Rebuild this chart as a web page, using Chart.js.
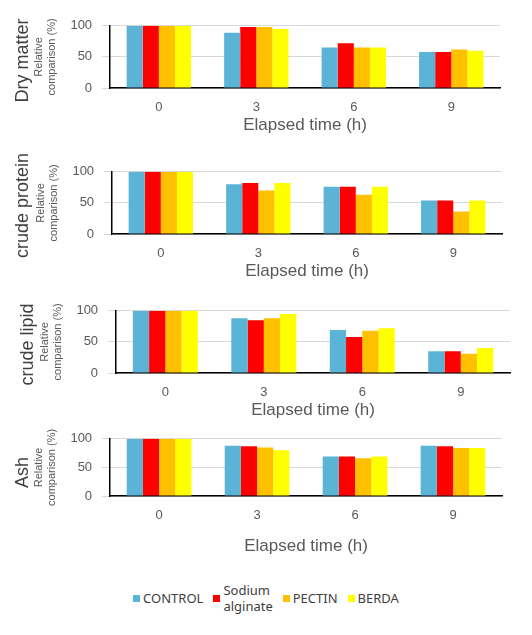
<!DOCTYPE html>
<html>
<head>
<meta charset="utf-8">
<script src="https://cdn.jsdelivr.net/npm/chart.js@4"></script>
<style>
  body { margin: 0; background: #fff; font-family: "Liberation Sans", Arial, sans-serif; }
  .panel { position: absolute; left: 0; width: 520px; }
  .big { position: absolute; font-size: 18px; color: #404040; transform: rotate(-90deg); transform-origin: center; white-space: nowrap; text-align: center; width: 140px; }
  #legend { position: absolute; top: 582px; left: 0; width: 532px; display: flex; justify-content: center; align-items: center; gap: 10px; font-family: "Noto Sans", sans-serif; font-size: 13px; color: #404040; }
  #legend span.sw { display: inline-block; width: 7px; height: 7px; margin-right: 3px; }
  #legend div { display: flex; align-items: center; line-height: 16px; }
</style>
</head>
<body>
<div class="panel" style="top:8px;height:128px"><canvas id="c0"></canvas></div>
<div class="panel" style="top:154px;height:128px"><canvas id="c1"></canvas></div>
<div class="panel" style="top:293px;height:128px"><canvas id="c2"></canvas></div>
<div class="panel" style="top:421px;height:150px"><canvas id="c3"></canvas></div>
<div class="big" style="left:-48px;top:50px">Dry matter</div>
<div class="big" style="left:-48px;top:195px">crude protein</div>
<div class="big" style="left:-43px;top:334px">crude lipid</div>
<div class="big" style="left:-48px;top:462px">Ash</div>
<div id="legend"></div>
<script>
const times = ["0", "3", "6", "9"];
const seriesNames = ["CONTROL", "Sodium alginate", "PECTIN", "BERDA"];
const seriesColors = ["#5bb4d6", "#ff0000", "#ffc000", "#ffff00"];

const dryMatter = [
  [100, 89, 65, 58],
  [100, 98, 72, 58],
  [100, 98, 65, 62],
  [100, 95, 65, 60],
];
const crudeProtein = [
  [100, 80, 76, 54],
  [100, 82, 76, 54],
  [100, 70, 63, 36],
  [100, 82, 76, 54],
];
const crudeLipid = [
  [100, 88, 69, 35],
  [100, 85, 58, 35],
  [100, 88, 68, 31],
  [100, 95, 72, 40],
];
const ash = [
  [100, 88, 69, 88],
  [100, 87, 69, 87],
  [100, 85, 66, 84],
  [100, 80, 69, 84],
];
const yTicks = [0, 50, 100];

const panels = [
  { id: "c0", data: dryMatter, pad: { left: 30, right: 20, top: 14, bottom: 0 }, xTitlePad: -4 },
  { id: "c1", data: crudeProtein, pad: { left: 32, right: 18, top: 14, bottom: 0 }, xTitlePad: -4 },
  { id: "c2", data: crudeLipid, pad: { left: 36, right: 10, top: 14, bottom: 0 }, xTitlePad: -4 },
  { id: "c3", data: ash, pad: { left: 30, right: 18, top: 14, bottom: 14 }, xTitlePad: 10 },
];

panels.forEach((p) => {
  new Chart(document.getElementById(p.id), {
    type: "bar",
    data: {
      labels: times,
      datasets: p.data.map((vals, i) => ({
        label: seriesNames[i],
        data: vals,
        backgroundColor: seriesColors[i],
        categoryPercentage: 0.66,
        barPercentage: 1,
      })),
    },
    options: {
      responsive: true,
      maintainAspectRatio: false,
      animation: false,
      layout: { padding: p.pad },
      plugins: { legend: { display: false }, tooltip: { enabled: false } },
      scales: {
        x: {
          grid: { display: false },
          border: { color: "#000", width: 1.5 },
          ticks: { color: "#595959", font: { size: 13 }, padding: 4 },
          title: { display: true, text: "Elapsed time (h)", color: "#595959", font: { size: 17 }, padding: { top: p.xTitlePad, bottom: 0 } },
        },
        y: {
          min: 0,
          max: 100,
          afterBuildTicks: (axis) => { axis.ticks = yTicks.map((v) => ({ value: v })); },
          grid: { color: "#d9d9d9" },
          border: { color: "#000", width: 1.5 },
          ticks: { color: "#595959", font: { size: 13 }, padding: 10 },
          title: { display: true, text: ["Relative", "comparison (%)"], color: "#595959", font: { size: 11 }, padding: 2 },
        },
      },
    },
  });
});

const legend = document.getElementById("legend");
seriesNames.forEach((name, i) => {
  const d = document.createElement("div");
  const label = name === "Sodium alginate" ? "Sodium<br>alginate" : name;
  d.innerHTML = `<span class="sw" style="background:${seriesColors[i]}"></span><span>${label}</span>`;
  legend.appendChild(d);
});
</script>
</body>
</html>
